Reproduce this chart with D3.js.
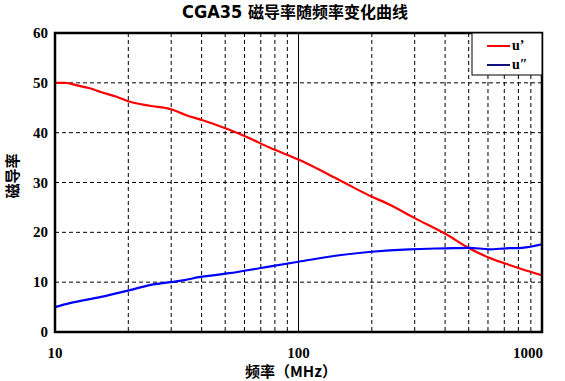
<!DOCTYPE html>
<html>
<head>
<meta charset="utf-8">
<script src="https://cdn.jsdelivr.net/npm/d3@7"></script>
<style>
  body { margin: 0; background: #fff; }
</style>
</head>
<body>
<script>
const w = 565;
const h = 381;

// u' (red) readings
const freqReal = [10, 11, 12.3, 13.9, 15.3, 17.9, 20.3, 24.5, 30, 34.6, 40.4, 50.7, 61, 76, 100, 147, 199, 236, 299, 404, 502, 607, 730, 829, 1000];
const muReal   = [50, 50, 49.5, 48.9, 48.2, 47.2, 46.2, 45.4, 44.7, 43.5, 42.5, 40.8, 39.2, 37.0, 34.6, 30.5, 27.2, 25.6, 22.9, 19.6, 16.8, 14.9, 13.5, 12.6, 11.4];

// u'' (blue) readings
const freqImag = [10, 11.5, 15.3, 20.3, 24.5, 34, 39, 52, 69, 100, 147, 199, 285, 404, 502, 607, 711, 829, 1000];
const muImag   = [5, 5.8, 7.0, 8.4, 9.4, 10.4, 11, 11.8, 12.8, 14.1, 15.4, 16.1, 16.6, 16.8, 16.9, 16.6, 16.8, 16.9, 17.6];

const xTicks = [10, 100, 1000];
const xGrid = [20, 30, 40, 50, 60, 70, 80, 90, 200, 300, 400, 500, 600, 700, 800, 900];
const yTicks = [0, 10, 20, 30, 40, 50, 60];
const legendNames = ["u\u2019", "u\u2033"];
const colors = ["#ff0000", "#0000ff"];

const pL = 55, pR = 542, pT = 33, pB = 332;

const x = d3.scaleLog().domain([10, 1000]).range([pL, pR]);
const y = d3.scaleLinear().domain([0, 60]).range([pB, pT]);

const svg = d3.select("body").append("svg")
  .attr("width", w)
  .attr("height", h);

const labelFont = "'Liberation Serif', 'Times New Roman', serif";
const cjk = "'Noto Sans CJK SC', sans-serif";

// grid
svg.append("g").selectAll("line")
  .data(xGrid)
  .enter().append("line")
  .attr("x1", d => x(d)).attr("x2", d => x(d))
  .attr("y1", pT).attr("y2", pB)
  .attr("stroke", "#000").attr("stroke-width", 1)
  .attr("stroke-dasharray", "4,3");

svg.append("line")
  .attr("x1", x(100)).attr("x2", x(100))
  .attr("y1", pT).attr("y2", pB)
  .attr("stroke", "#000").attr("stroke-width", 1);

svg.append("g").selectAll("line")
  .data(yTicks.filter(d => d > 0 && d < 60))
  .enter().append("line")
  .attr("x1", pL).attr("x2", pR)
  .attr("y1", d => y(d)).attr("y2", d => y(d))
  .attr("stroke", "#000").attr("stroke-width", 1)
  .attr("stroke-dasharray", "4,3");

// curves
const line = d3.line()
  .x(d => x(d[0]))
  .y(d => y(d[1]))
  .curve(d3.curveMonotoneX);

const series = [d3.zip(freqReal, muReal), d3.zip(freqImag, muImag)];

svg.selectAll("path.curve")
  .data(series)
  .enter().append("path")
  .attr("class", "curve")
  .attr("d", line)
  .attr("fill", "none")
  .attr("stroke", (d, i) => colors[i])
  .attr("stroke-width", 2.2);

// frame
svg.append("rect")
  .attr("x", pL).attr("y", pT)
  .attr("width", pR - pL).attr("height", pB - pT)
  .attr("fill", "none").attr("stroke", "#000").attr("stroke-width", 2.5);

// tick labels
svg.append("g").selectAll("text")
  .data(yTicks)
  .enter().append("text")
  .attr("x", 48)
  .attr("y", d => y(d) + 5)
  .attr("text-anchor", "end")
  .attr("font-family", labelFont)
  .attr("font-weight", "bold")
  .attr("font-size", "15px")
  .text(d => d);

svg.append("g").selectAll("text")
  .data(xTicks)
  .enter().append("text")
  .attr("x", (d, i) => i == 2 ? x(d) + 1 : x(d))
  .attr("y", 358)
  .attr("text-anchor", (d, i) => i == 2 ? "end" : "middle")
  .attr("font-family", labelFont)
  .attr("font-weight", "bold")
  .attr("font-size", "15px")
  .text(d => d);

// axis titles
svg.append("text")
  .attr("x", 291).attr("y", 377)
  .attr("text-anchor", "middle")
  .attr("font-family", cjk)
  .attr("font-weight", "bold")
  .attr("font-size", "15px")
  .text("频率（MHz）");

svg.append("text")
  .attr("transform", "translate(18,176) rotate(-90)")
  .attr("text-anchor", "middle")
  .attr("font-family", cjk)
  .attr("font-weight", "bold")
  .attr("font-size", "15px")
  .text("磁导率");

// title
const title = svg.append("text")
  .attr("x", 295).attr("y", 18)
  .attr("text-anchor", "middle")
  .attr("font-weight", "bold")
  .attr("font-size", "16px");
title.append("tspan")
  .attr("font-family", "'Liberation Sans Narrow', 'DejaVu Sans Condensed', sans-serif")
  .attr("font-size", "18px")
  .text("CGA35 ");
title.append("tspan")
  .attr("font-family", cjk)
  .text("磁导率随频率变化曲线");

// legend
const legend = svg.append("g");
legend.append("rect")
  .attr("x", 472).attr("y", 33)
  .attr("width", 70).attr("height", 42)
  .attr("fill", "#fff").attr("stroke", "#000").attr("stroke-width", 1);

const items = legend.selectAll("g.item")
  .data(legendNames)
  .enter().append("g")
  .attr("class", "item")
  .attr("transform", (d, i) => "translate(0," + (46 + i * 19) + ")");

items.append("line")
  .attr("x1", 487).attr("x2", 510)
  .attr("y1", 0).attr("y2", 0)
  .attr("stroke", (d, i) => i == 0 ? colors[0] : "#10107a")
  .attr("stroke-width", 2);

items.append("text")
  .attr("x", 512).attr("y", 4)
  .attr("font-family", labelFont)
  .attr("font-weight", "bold")
  .attr("font-size", "14px")
  .text(d => d);
</script>
</body>
</html>
